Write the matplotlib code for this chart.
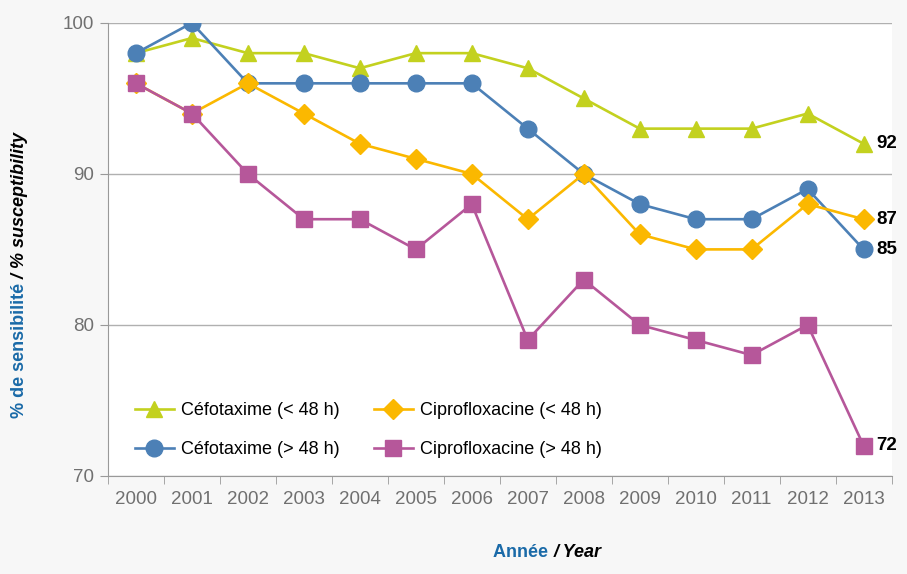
import matplotlib.pyplot as plt
from matplotlib.ticker import FixedLocator

plt.rcParams['font.family'] = ['Liberation Sans', 'DejaVu Sans']

years = [2000, 2001, 2002, 2003, 2004, 2005, 2006, 2007, 2008, 2009, 2010, 2011, 2012, 2013]
cefo_lt48 = [98, 99, 98, 98, 97, 98, 98, 97, 95, 93, 93, 93, 94, 92]
cefo_gt48 = [98, 100, 96, 96, 96, 96, 96, 93, 90, 88, 87, 87, 89, 85]
cipro_lt48 = [96, 94, 96, 94, 92, 91, 90, 87, 90, 86, 85, 85, 88, 87]
cipro_gt48 = [96, 94, 90, 87, 87, 85, 88, 79, 83, 80, 79, 78, 80, 72]

fig = plt.figure(figsize=(9.07, 5.74), dpi=100, facecolor='#f7f7f7')
ax = fig.add_axes([0.119, 0.171, 0.864, 0.789])
ax.set_facecolor('white')

x = list(range(len(years)))
lw = 1.9
l1, = ax.plot(x, cefo_lt48, color='#c3d11f', lw=lw, marker='^', ms=11, zorder=3,
              label='Céfotaxime (< 48 h)')
l2, = ax.plot(x, cefo_gt48, color='#4c80b6', lw=lw, marker='o', ms=12, zorder=4,
              label='Céfotaxime (> 48 h)')
l3, = ax.plot(x, cipro_lt48, color='#fbb800', lw=lw, marker='D', ms=10, zorder=5,
              label='Ciprofloxacine (< 48 h)')
l4, = ax.plot(x, cipro_gt48, color='#b6579a', lw=lw, marker='s', ms=11, zorder=6,
              label='Ciprofloxacine (> 48 h)')

# end values
for series in [cefo_lt48, cefo_gt48, cipro_lt48, cipro_gt48]:
    ax.annotate(str(series[-1]), (x[-1], series[-1]), xytext=(9, 0),
                textcoords='offset points', va='center', ha='left',
                fontsize=13.5, fontweight='bold', color='black')

ax.set_xlim(-0.5, len(years) - 0.5)
ax.set_ylim(70, 100)
ax.set_yticks([70, 80, 90, 100])
ax.set_xticks(x)
ax.set_xticklabels([str(y) for y in years])
ax.xaxis.set_minor_locator(FixedLocator([i - 0.5 for i in range(len(years) + 1)]))
ax.tick_params(axis='x', which='major', length=0, pad=11, labelsize=13.5, labelcolor='#707070')
ax.tick_params(axis='x', which='minor', length=6, color='#999999', direction='out')
ax.tick_params(axis='y', length=6, color='#999999', pad=4, labelsize=13.5, labelcolor='#707070')

ax.grid(axis='y', color='#b0b0b0', lw=1)
ax.set_axisbelow(True)
for s in ['top', 'right']:
    ax.spines[s].set_visible(False)
for s in ['left', 'bottom']:
    ax.spines[s].set_color('#999999')

ax.legend(handles=[l1, l2, l3, l4], ncol=2, frameon=False, fontsize=13,
          loc='center left', bbox_to_anchor=(0.034, 0.101), borderpad=0,
          borderaxespad=0, handlelength=2.2, columnspacing=1.9,
          labelspacing=1.25, handletextpad=0.35)

# axis titles, two colours each
blue = '#1a6aa8'
fig.text(0.61, 0.037, 'Année ', color=blue, fontsize=13, fontweight='bold',
         ha='right', va='center')
fig.text(0.61, 0.037, '/ Year', color='black', fontsize=13, fontweight='bold',
         style='italic', ha='left', va='center')
fig.text(0.021, 0.507, '% de sensibilité', color=blue, fontsize=13, fontweight='bold',
         rotation=90, ha='center', va='top')
fig.text(0.021, 0.507, ' / % susceptibility', color='black', fontsize=13, fontweight='bold',
         style='italic', rotation=90, ha='center', va='bottom')

fig.savefig('out.png', dpi=100, facecolor=fig.get_facecolor())
